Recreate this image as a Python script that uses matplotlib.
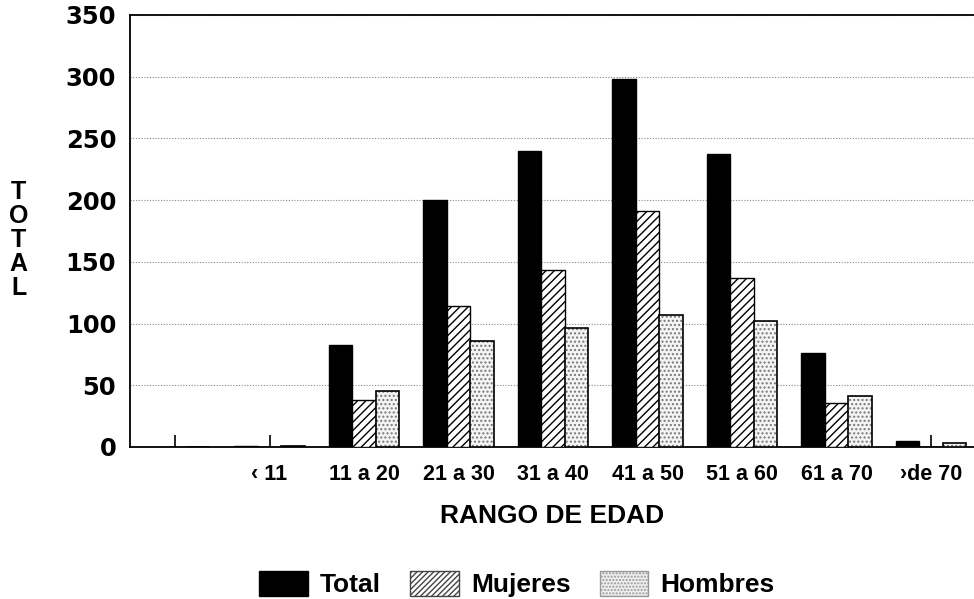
import numpy as np
import matplotlib
matplotlib.use("Agg")
import matplotlib.pyplot as plt
from matplotlib.patches import Patch

plt.rcParams["font.family"] = ["Liberation Sans", "DejaVu Sans"]
plt.rcParams["font.weight"] = "bold"
plt.rcParams["hatch.linewidth"] = 1.0

# Data
categories = ["", "\u2039 11", "11 a 20", "21 a 30", "31 a 40", "41 a 50",
              "51 a 60", "61 a 70", "\u203ade 70"]
total = [0, 1, 83, 200, 240, 298, 237, 76, 5]
mujeres = [0, 0, 38, 114, 143, 191, 137, 36, 0]
hombres = [0, 1, 45, 86, 96, 107, 102, 41, 3]
yticks = [0, 50, 100, 150, 200, 250, 300, 350]

x = np.arange(len(categories))
w = 0.25

fig = plt.figure(figsize=(9.74, 5.99), dpi=100)
ax = fig.add_axes([0.1335, 0.2538, 0.8665, 0.7212])

ax.bar(x - w, total, w, color="black", edgecolor="black", linewidth=1.0, zorder=3)
ax.bar(x, mujeres, w, color="white", edgecolor="black", hatch="////",
       linewidth=1.0, zorder=3)
# stipple for Hombres: grey dots, then black outline on top
ax.bar(x + w, hombres, w, color="#f4f4f4", edgecolor="#777777", hatch="....",
       linewidth=0, zorder=3)
ax.bar(x + w, hombres, w, fill=False, edgecolor="black", linewidth=1.2, zorder=4)

ax.set_xlim(-0.476, 8.455)
ax.set_ylim(0, 350)
ax.set_yticks(yticks)
ax.set_yticklabels([str(v) for v in yticks], fontsize=17.5, fontweight="bold",
                   family="DejaVu Sans")
ax.set_xticks(x)
ax.set_xticklabels(categories, fontsize=15.5, fontweight="bold")
ax.tick_params(axis="x", direction="in", length=9, width=1.2, pad=12)
ax.tick_params(axis="y", length=0, pad=10)

ax.yaxis.grid(True, linestyle=(0, (1, 1.5)), color="#888888", linewidth=0.8, zorder=0)
ax.set_axisbelow(True)
for s in ["left", "bottom", "top"]:
    ax.spines[s].set_linewidth(1.3)
ax.spines["right"].set_visible(False)

ax.set_xlabel("RANGO DE EDAD", fontsize=19, fontweight="bold", labelpad=14)
fig.text(0.019, 0.6, "T\nO\nT\nA\nL", fontsize=18, fontweight="bold",
         ha="center", va="center", linespacing=1.0)

handles = [
    Patch(facecolor="black", edgecolor="black"),
    Patch(facecolor="white", edgecolor="#444444", hatch="//////"),
    Patch(facecolor="#eeeeee", edgecolor="#999999", hatch="....."),
]
fig.legend(handles, ["Total", "Mujeres", "Hombres"], loc="center",
           bbox_to_anchor=(517 / 974, 0.025), ncol=3, frameon=False,
           prop={"size": 19, "weight": "bold"}, handlelength=1.85,
           handleheight=1.06, handletextpad=0.45, columnspacing=1.1,
           borderpad=0, borderaxespad=0)

fig.savefig("out.png", dpi=100)
